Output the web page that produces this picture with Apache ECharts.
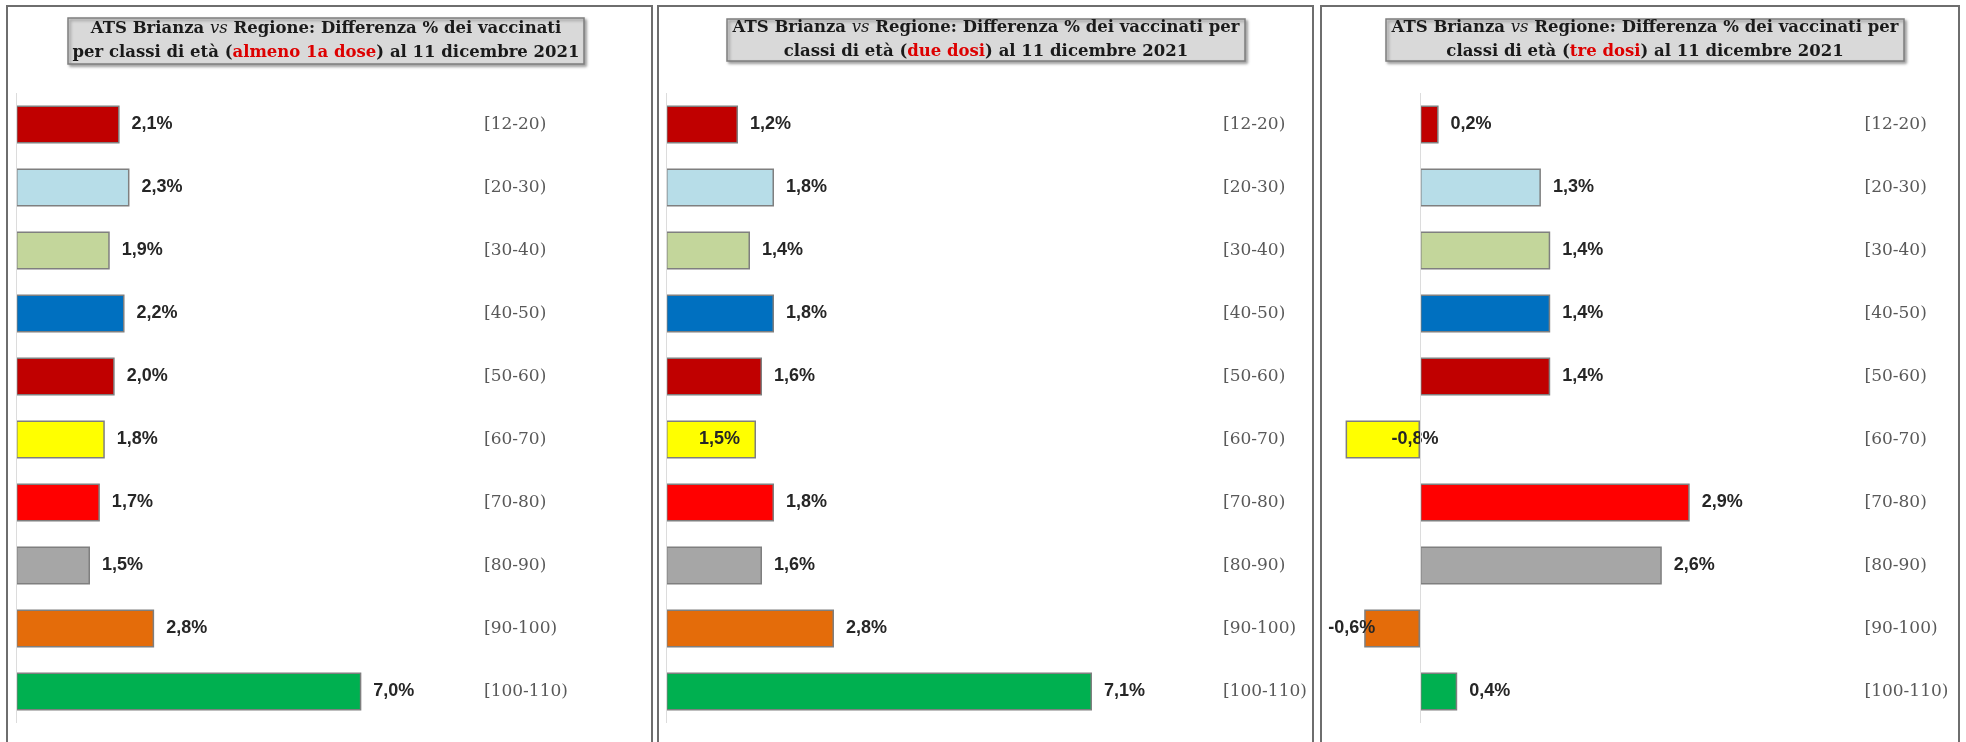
<!DOCTYPE html>
<html>
<head>
<meta charset="utf-8">
<script src="https://cdn.jsdelivr.net/npm/echarts@6/dist/echarts.min.js"></script>
<style>
html, body { margin: 0; padding: 0; background: #fff; }
#main { width: 1966px; height: 742px; }
</style>
</head>
<body>
<div id="main"></div>
<script>
// classi di età e differenze % (ATS Brianza - Regione)
var categories = ['[12-20)', '[20-30)', '[30-40)', '[40-50)', '[50-60)', '[60-70)', '[70-80)', '[80-90)', '[90-100)', '[100-110)'];
var dose1 = [2.1, 2.3, 1.9, 2.2, 2.0, 1.8, 1.7, 1.5, 2.8, 7.0];
var dose2 = [1.2, 1.8, 1.4, 1.8, 1.6, 1.5, 1.8, 1.6, 2.8, 7.1];
var dose3 = [0.2, 1.3, 1.4, 1.4, 1.4, -0.8, 2.9, 2.6, -0.6, 0.4];
var barColors = ['#c00000', '#b7dde8', '#c3d69b', '#0070c0', '#c00000', '#ffff00', '#ff0000', '#a6a6a6', '#e46c0a', '#00b050'];
var doseNames = ['almeno 1a dose', 'due dosi', 'tre dosi'];

var myChart = echarts.init(document.getElementById('main'));

var serifFont = 'DejaVu Serif';
var titleRich = {
    b: { fontFamily: serifFont, fontWeight: 'bold', fontSize: 16.5, color: '#1a1a1a', lineHeight: 24 },
    i: { fontFamily: serifFont, fontStyle: 'italic', fontWeight: 'normal', fontSize: 16.5, color: '#1a1a1a', lineHeight: 24 },
    r: { fontFamily: serifFont, fontWeight: 'bold', fontSize: 16.5, color: '#dd0000', lineHeight: 24 }
};

function makeTitle(cx, top, pad, text) {
    return {
        text: text,
        left: cx - pad[1],
        top: top,
        textAlign: 'center',
        padding: pad,
        backgroundColor: '#d9d9d9',
        borderColor: '#7f7f7f',
        borderWidth: 1.5,
        shadowColor: 'rgba(0,0,0,0.35)',
        shadowBlur: 3,
        shadowOffsetX: 2,
        shadowOffsetY: 2,
        textStyle: { rich: titleRich }
    };
}

var titles = [
    makeTitle(326, 14, [3, 5], '{b|ATS Brianza }{i|vs}{b| Regione: Differenza % dei vaccinati}\n{b|per classi di età (}{r|' + doseNames[0] + '}{b|) al 11 dicembre 2021}'),
    makeTitle(986, 15, [1, 6], '{b|ATS Brianza }{i|vs}{b| Regione: Differenza % dei vaccinati per}\n{b|classi di età (}{r|' + doseNames[1] + '}{b|) al 11 dicembre 2021}'),
    makeTitle(1645, 15, [1, 6], '{b|ATS Brianza }{i|vs}{b| Regione: Differenza % dei vaccinati per}\n{b|classi di età (}{r|' + doseNames[2] + '}{b|) al 11 dicembre 2021}')
];

// etichette spostate a mano come nel grafico originale
var labelTweaks = [
    {},
    { 5: { position: 'insideRight', distance: 16 } },
    { 5: { position: 'insideLeft', distance: 0, offset: [46, 0] },
      8: { position: 'insideLeft', distance: 0, offset: [-36, 0] } }
];

function fmt(p) {
    return p.value.toFixed(1).replace('.', ',') + '%';
}

function makeSeries(idx, values) {
    return {
        type: 'bar',
        xAxisIndex: idx,
        yAxisIndex: idx,
        barWidth: 38,
        data: values.map(function (v, i) {
            var item = { value: v, itemStyle: { color: barColors[i] } };
            if (labelTweaks[idx][i]) item.label = labelTweaks[idx][i];
            return item;
        }),
        itemStyle: { borderColor: '#7f7f7f', borderWidth: 1.5 },
        label: {
            show: true,
            position: 'right',
            distance: 12,
            formatter: fmt,
            color: '#262626',
            textBorderWidth: 0,
            fontFamily: 'Liberation Sans',
            fontWeight: 'bold',
            fontSize: 18
        },
        emphasis: { disabled: true },
        markLine: {
            silent: true,
            symbol: 'none',
            label: { show: false },
            lineStyle: { color: '#dcdcdc', type: 'solid', width: 1 },
            data: [{ xAxis: 0 }]
        }
    };
}

function makeYAxis(idx, margin) {
    return {
        gridIndex: idx,
        type: 'category',
        data: categories,
        inverse: true,
        position: 'right',
        axisLine: { show: false },
        axisTick: { show: false },
        axisLabel: {
            margin: margin,
            align: 'left',
            color: '#595959',
            fontFamily: serifFont,
            fontSize: 17
        }
    };
}

option = {
    animation: false,
    backgroundColor: '#ffffff',
    title: titles,
    graphic: [
        { type: 'rect', silent: true, z: 0, shape: { x: 7, y: 6, width: 645, height: 800 }, style: { fill: 'none', stroke: '#6e6e6e', lineWidth: 2 } },
        { type: 'rect', silent: true, z: 0, shape: { x: 658, y: 6, width: 655, height: 800 }, style: { fill: 'none', stroke: '#6e6e6e', lineWidth: 2 } },
        { type: 'rect', silent: true, z: 0, shape: { x: 1321, y: 6, width: 638, height: 800 }, style: { fill: 'none', stroke: '#6e6e6e', lineWidth: 2 } }
    ],
    grid: [
        { left: 16, top: 93, width: 444, height: 630 },
        { left: 666, top: 93, width: 540, height: 630 },
        { left: 1327, top: 93, width: 511.5, height: 630 }
    ],
    xAxis: [
        { gridIndex: 0, type: 'value', min: 0, max: 9, show: false },
        { gridIndex: 1, type: 'value', min: 0, max: 9, show: false },
        { gridIndex: 2, type: 'value', min: -1, max: 4.5, show: false }
    ],
    yAxis: [makeYAxis(0, 24), makeYAxis(1, 17), makeYAxis(2, 26)],
    series: [makeSeries(0, dose1), makeSeries(1, dose2), makeSeries(2, dose3)]
};

myChart.setOption(option);
window.onresize = myChart.resize;
</script>
</body>
</html>
